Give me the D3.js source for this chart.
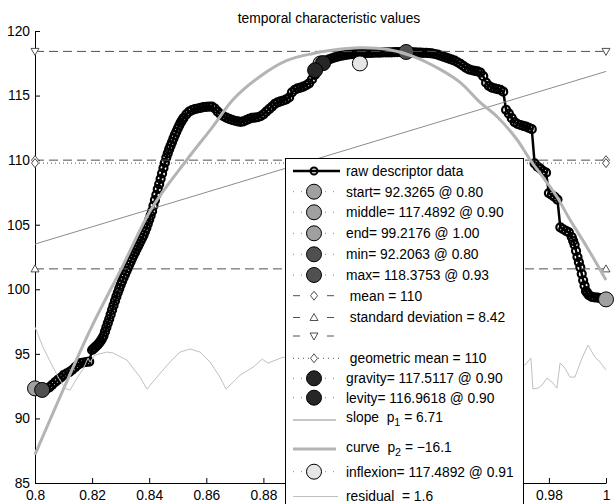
<!DOCTYPE html>
<html><head><meta charset="utf-8">
<script src="https://cdn.jsdelivr.net/npm/d3@7"></script>
<style>
html,body{margin:0;padding:0;background:#fff;}
svg{display:block;font-family:"Liberation Sans",Arial,Helvetica,sans-serif;}
text{white-space:pre;}
</style></head><body>
<svg id="chart" width="615" height="504"></svg>
<script>
const TITLE = "temporal characteristic values";
const X_TICKS = [0.8,0.82,0.84,0.86,0.88,0.9,0.92,0.94,0.96,0.98,1];
const X_TICK_LABELS = ["0.8","0.82","0.84","0.86","0.88","0.9","0.92","0.94","0.96","0.98","1"];
const Y_TICKS = [85,90,95,100,105,110,115,120];
const Y_TICK_LABELS = ["85","90","95","100","105","110","115","120"];

// raw descriptor data, sampled every 0.001 from 0.800 to 1.000
const RAW_T0 = 0.8, RAW_DT = 0.001;
const RAW_VALUES = [
92.33,92.25,92.22,92.21,92.28,92.40,92.60,92.80,92.98,93.15,
93.36,93.48,93.58,93.75,93.95,94.15,94.29,94.33,94.37,94.40,
95.30,95.50,95.72,96.00,96.40,97.05,97.70,98.40,99.10,99.75,
100.35,100.90,101.40,101.90,102.40,102.85,103.30,103.75,104.20,104.75,
105.40,106.05,106.90,107.75,108.55,109.40,110.20,110.85,111.40,111.95,
112.45,112.90,113.25,113.55,113.75,113.88,113.95,114.00,114.05,114.10,
114.13,114.15,114.15,114.00,113.75,113.55,113.40,113.30,113.20,113.12,
113.05,113.00,112.97,113.00,113.10,113.20,113.28,113.30,113.32,113.40,
113.55,113.75,113.95,114.15,114.35,114.48,114.55,114.62,114.70,114.85,
115.25,115.45,115.55,115.62,115.70,115.80,115.95,116.25,116.60,117.00,
117.35,117.55,117.70,117.80,117.88,117.95,118.02,118.08,118.12,118.15,
118.18,118.20,118.22,118.24,118.25,118.27,118.28,118.30,118.30,118.32,
118.33,118.33,118.34,118.34,118.35,118.35,118.36,118.36,118.37,118.37,
118.3753,118.36,118.35,118.34,118.33,118.32,118.31,118.30,118.28,118.26,
118.22,118.17,118.10,118.02,117.94,117.86,117.78,117.70,117.58,117.45,
117.30,117.15,117.03,116.96,116.92,116.88,116.78,116.50,116.00,115.75,
115.62,115.55,115.50,115.45,115.30,113.90,113.60,113.25,112.95,112.80,
112.72,112.66,112.60,112.50,112.40,109.75,109.50,109.35,109.15,109.03,
107.45,107.30,107.15,106.95,104.80,104.65,104.52,104.40,104.05,103.45,
102.50,101.70,100.70,99.85,99.55,99.42,99.38,99.35,99.32,99.28,
99.2176
];
// extra raw samples read in the steep parts (half-step times)
const RAW_EXTRA_T = [0.8205,0.8215,0.8225,0.8235,0.8245,0.8255,0.8265,0.8275,0.8285,0.8295,
0.8305,0.8315,0.8325,0.8335,0.8345,0.8355,0.8365,0.8375,0.8385,0.8395,
0.8405,0.8415,0.8425,0.8435,0.8445,0.8455,0.8465,0.8475,0.8485,0.8495,0.8505,0.8515,
0.9885,0.9895,0.9905,0.9915,0.9925,0.9935];
const RAW_EXTRA_V = [95.40,95.61,95.85,96.18,96.72,97.38,98.05,98.75,99.43,100.05,
100.63,101.15,101.65,102.15,102.63,103.08,103.52,103.97,104.47,105.07,
105.72,106.47,107.32,108.15,108.97,109.80,110.53,111.13,111.68,112.20,112.68,113.08,
103.75,102.98,102.10,101.20,100.28,99.70];

// fitted curve
const CURVE_T = [0.8,0.8193,0.8304,0.8410,0.8532,0.8623,0.8694,0.8788,0.8883,0.8974,0.9033,0.9138,0.9233,0.9324,0.9419,0.9489,0.9559,0.9618,0.9688,0.9734,0.9786,0.9828,0.9874,0.9933,1.0];
const CURVE_V = [87.2,96.84,101.66,106.32,110.03,112.60,114.70,116.48,117.72,118.26,118.49,118.70,118.58,118.04,117.03,116.02,114.47,113.38,111.60,110.03,108.48,107.16,105.38,103.28,100.72];

// linear slope
const SLOPE_T = [0.8, 1.0];
const SLOPE_V = [103.5, 116.87];

// residual
const RESID_T = [0.8,0.8028,0.8063,0.8081,0.8105,0.8123,0.8147,0.8168,0.8186,0.8193,0.8210,0.8252,0.8273,0.8322,0.8368,0.8392,0.8427,0.8473,0.8508,0.8543,0.8578,0.8613,0.8648,0.8669,0.8694,0.8718,0.8764,0.8796,0.8816,0.8869,
0.895,0.905,0.915,0.925,0.935,0.945,0.955,0.962,
0.9716,0.9737,0.9744,0.9762,0.9776,0.9793,0.9811,0.9828,0.9839,0.9856,0.9874,0.9891,0.9916,0.9937,0.9961,0.9979,1.0];
const RESID_V = [97.07,95.52,93.97,93.20,92.33,92.19,93.12,93.81,94.67,94.36,94.91,95.14,95.07,94.52,93.20,92.27,93.20,94.37,95.14,95.38,95.14,94.37,93.20,92.27,92.81,93.35,93.97,94.59,94.28,94.75,
94.2,92.6,94.0,93.2,94.6,93.0,94.3,93.6,
94.13,94.68,92.28,92.35,92.58,93.12,92.81,92.35,94.29,93.90,93.20,93.20,94.67,95.68,94.75,94.37,93.75];

// horizontal reference lines
const HLINE_NAMES = ["mean","std_upper","std_lower","geometric_mean"];
const HLINE_VALUES = [110, 118.42, 101.58, 109.77];

// characteristic points
const POINT_NAMES = ["start","middle","end","min","max","gravity","levity","inflexion"];
const POINT_T = [0.80, 0.90, 1.00, 0.8025, 0.93, 0.9009, 0.8981, 0.9138];
const POINT_V = [92.3265, 117.4892, 99.2176, 92.2063, 118.3753, 117.5117, 116.9618, 117.4892];

const LEGEND_LABELS = [
 "raw descriptor data",
 "start= 92.3265 @ 0.80",
 "middle= 117.4892 @ 0.90",
 "end= 99.2176 @ 1.00",
 "min= 92.2063 @ 0.80",
 "max= 118.3753 @ 0.93",
 " mean = 110",
 " standard deviation = 8.42",
 "",
 " geometric mean = 110",
 "gravity= 117.5117 @ 0.90",
 "levity= 116.9618 @ 0.90",
 "slope  p_1 = 6.71",
 "curve  p_2 = \u221216.1",
 "inflexion= 117.4892 @ 0.91",
 "residual  = 1.6"
];

// ---------------- drawing ----------------
const svg = d3.select("#chart");
const FONT = 13.8;
const x = d3.scaleLinear().domain([0.8, 1]).range([35, 606]);
const y = d3.scaleLinear().domain([85, 120]).range([483, 31]);

const raw = RAW_VALUES.map((v, i) => ({t: RAW_T0 + i * RAW_DT, v}))
  .concat(RAW_EXTRA_T.map((t, i) => ({t, v: RAW_EXTRA_V[i]})))
  .sort((a, b) => a.t - b.t);
const pts = POINT_NAMES.map((n, i) => ({name: n, t: POINT_T[i], v: POINT_V[i]}));
const P = Object.fromEntries(pts.map(p => [p.name, p]));
const H = Object.fromEntries(HLINE_NAMES.map((n, i) => [n, HLINE_VALUES[i]]));

// legend box geometry
const LEG = {x: 285.5, y: 158.5, w: 238, h: 360};

// title
svg.append("text").attr("x", 329).attr("y", 22.5).attr("text-anchor", "middle")
  .attr("font-size", FONT).text(TITLE);

// axes
const gx = svg.append("g").attr("transform", "translate(0,483)")
  .call(d3.axisBottom(x).tickValues(X_TICKS).tickFormat((d, i) => X_TICK_LABELS[i])
    .tickSizeInner(-5).tickSizeOuter(0).tickPadding(7));
const gy = svg.append("g").attr("transform", "translate(35,0)")
  .call(d3.axisLeft(y).tickValues(Y_TICKS).tickFormat((d, i) => Y_TICK_LABELS[i])
    .tickSizeInner(-5).tickSizeOuter(0).tickPadding(5));
[gx, gy].forEach(g => {
  g.selectAll("text").attr("font-size", FONT).attr("fill", "#000");
  g.selectAll("path,line").attr("stroke", "#000");
  g.attr("font-family", null);
});
// tick labels hidden behind the legend box are not drawn
gx.selectAll(".tick").filter(d => x(d) > LEG.x - 5 && x(d) < LEG.x + LEG.w + 5).select("text").remove();

const plot = svg.append("g");
const line = d3.line().x(d => x(d.t)).y(d => y(d.v));

function marker(g, type, cx, cy, stroke) {
  let d;
  if (type === "diamond") d = `M${cx},${cy-4.5}L${cx+3.5},${cy}L${cx},${cy+4.5}L${cx-3.5},${cy}Z`;
  else if (type === "triUp") d = `M${cx},${cy-4}L${cx+4},${cy+3}L${cx-4},${cy+3}Z`;
  else d = `M${cx},${cy+4}L${cx+4},${cy-3}L${cx-4},${cy-3}Z`;
  g.append("path").attr("d", d).attr("fill", "#fff").attr("stroke", stroke).attr("stroke-width", 1);
}

// raw data
plot.append("path").datum(raw).attr("d", line).attr("fill", "none")
  .attr("stroke", "#000").attr("stroke-width", 2.5).attr("stroke-linejoin", "round");
plot.append("g").selectAll("circle").data(raw).join("circle")
  .attr("cx", d => x(d.t)).attr("cy", d => y(d.v)).attr("r", 4)
  .attr("fill", "none").attr("stroke", "#000").attr("stroke-width", 2.2);

const bigFill = {start: "#a0a0a0", middle: "#a0a0a0", end: "#a0a0a0", min: "#505050", max: "#505050",
  gravity: "#262626", levity: "#262626", inflexion: "#e6e6e6"};
function bigCircle(name) {
  const p = P[name];
  plot.append("circle").attr("cx", x(p.t)).attr("cy", y(p.v)).attr("r", 7.5)
    .attr("fill", bigFill[name]).attr("stroke", "#000").attr("stroke-width", 1);
}
["start", "middle", "end", "min", "max"].forEach(bigCircle);

// horizontal lines
function hline(val, dash, mk) {
  plot.append("line").attr("x1", x(0.8)).attr("x2", x(1)).attr("y1", y(val)).attr("y2", y(val))
    .attr("stroke", "#505050").attr("stroke-width", 1).attr("stroke-dasharray", dash);
  marker(plot, mk, x(0.8), y(val), "#505050");
  marker(plot, mk, x(1), y(val), "#505050");
}
hline(H.mean, "9,5", "diamond");
hline(H.std_lower, "9,5", "triUp");
hline(H.std_upper, "9,5", "triDown");
hline(H.geometric_mean, "1,3", "diamond");

["gravity", "levity"].forEach(bigCircle);

// slope
plot.append("path").datum(SLOPE_T.map((t, i) => ({t, v: SLOPE_V[i]}))).attr("d", line)
  .attr("fill", "none").attr("stroke", "#8c8c8c").attr("stroke-width", 1);
// curve
plot.append("path").datum(CURVE_T.map((t, i) => ({t, v: CURVE_V[i]})))
  .attr("d", line.curve(d3.curveCatmullRom.alpha(0.5)))
  .attr("fill", "none").attr("stroke", "#b4b4b4").attr("stroke-width", 3);
line.curve(d3.curveLinear);
bigCircle("inflexion");
// residual
plot.append("path").datum(RESID_T.map((t, i) => ({t, v: RESID_V[i]}))).attr("d", line)
  .attr("fill", "none").attr("stroke", "#c0c0c0").attr("stroke-width", 1);

// legend
const lg = svg.append("g");
lg.append("rect").attr("x", LEG.x).attr("y", LEG.y).attr("width", LEG.w).attr("height", LEG.h)
  .attr("fill", "#fff").attr("stroke", "#000").attr("stroke-width", 1);
const rowY = [171, 191.7, 212.3, 233.3, 254.3, 275, 295.7, 317.5, 336, 358.3, 378.3, 397.7, 420, 449, 471.7, 496.5];
const LX1 = 293, LX2 = 340, LM = 314;
const kinds = ["raw", "c:start", "c:middle", "c:end", "c:min", "c:max", "d:diamond", "d:triUp", "d:triDown",
  "g:diamond", "c:gravity", "c:levity", "slope", "curve", "c:inflexion", "resid"];
LEGEND_LABELS.forEach((lab, i) => {
  const yy = rowY[i];
  const k = kinds[i];
  let textY = yy + 4.8;
  if (k === "raw") {
    lg.append("line").attr("x1", LX1).attr("x2", LX2).attr("y1", yy).attr("y2", yy)
      .attr("stroke", "#000").attr("stroke-width", 2.5);
    lg.append("circle").attr("cx", LM).attr("cy", yy).attr("r", 3.5).attr("fill", "none")
      .attr("stroke", "#000").attr("stroke-width", 2);
  } else if (k.startsWith("c:")) {
    lg.append("line").attr("x1", LX1).attr("x2", LX2).attr("y1", yy).attr("y2", yy)
      .attr("stroke", "#888").attr("stroke-width", 1).attr("stroke-dasharray", "1,7");
    lg.append("circle").attr("cx", LM).attr("cy", yy).attr("r", 7.5)
      .attr("fill", bigFill[k.slice(2)]).attr("stroke", "#000").attr("stroke-width", 1);
  } else if (k.startsWith("d:")) {
    lg.append("line").attr("x1", LX1).attr("x2", 334).attr("y1", yy).attr("y2", yy)
      .attr("stroke", "#505050").attr("stroke-width", 1).attr("stroke-dasharray", "7,27");
    marker(lg, k.slice(2), LM, yy, "#505050");
  } else if (k.startsWith("g:")) {
    lg.append("line").attr("x1", LX1).attr("x2", LX2).attr("y1", yy).attr("y2", yy)
      .attr("stroke", "#505050").attr("stroke-width", 1).attr("stroke-dasharray", "1,4");
    marker(lg, "diamond", LM, yy, "#505050");
  } else if (k === "slope") {
    lg.append("line").attr("x1", LX1).attr("x2", 336).attr("y1", yy).attr("y2", yy)
      .attr("stroke", "#8c8c8c").attr("stroke-width", 1);
    textY = yy + 2;
  } else if (k === "curve") {
    lg.append("line").attr("x1", LX1).attr("x2", 336).attr("y1", yy).attr("y2", yy)
      .attr("stroke", "#b4b4b4").attr("stroke-width", 3);
    textY = yy + 3;
  } else if (k === "resid") {
    lg.append("line").attr("x1", LX1).attr("x2", 338).attr("y1", yy).attr("y2", yy)
      .attr("stroke", "#c0c0c0").attr("stroke-width", 1);
  }
  if (!lab) return;
  const t = lg.append("text").attr("x", 346).attr("y", textY).attr("font-size", FONT);
  const m = lab.match(/^(.*)_(\d)(.*)$/);
  if (m) {
    t.append("tspan").text(m[1]);
    t.append("tspan").attr("dy", 4).attr("font-size", FONT * 0.78).text(m[2]);
    t.append("tspan").attr("dy", -4).text(m[3]);
  } else t.text(lab);
});
</script>
</body></html>
